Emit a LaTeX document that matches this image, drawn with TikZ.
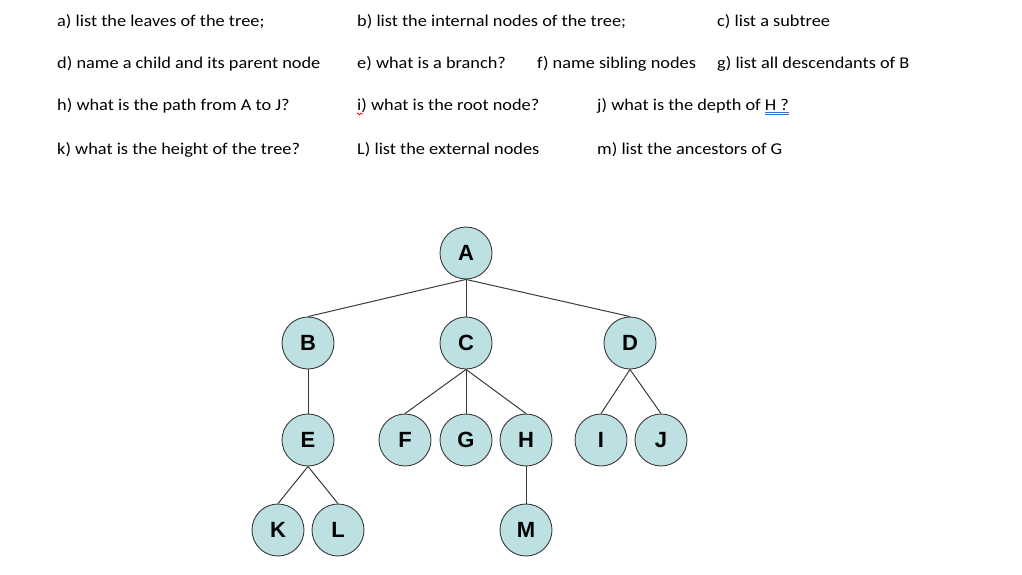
\documentclass[tikz,border=0pt]{standalone}
\usepackage{fontspec}
\setmainfont{Carlito}[FakeStretch=1.11]
\newfontfamily\nodefont{Liberation Sans}
\usetikzlibrary{decorations.pathmorphing}
\definecolor{nodefill}{HTML}{BDE0E3}
\definecolor{nodeline}{HTML}{3A3A3A}
\definecolor{uline}{HTML}{3B6FD8}
\begin{document}
\begin{tikzpicture}[x=1pt,y=-1pt,
  q/.style={anchor=base west,inner sep=0pt,font=\fontsize{16.5}{19}\selectfont},
  tnode/.style={circle,draw=nodeline,line width=0.9pt,fill=nodefill,minimum size=52pt,inner sep=0pt,font=\nodefont\bfseries\fontsize{22}{23}\selectfont},
  tedge/.style={draw=nodeline,line width=1pt}]
\useasboundingbox (0,0) rectangle (1022,575);
% questions
\node[q] (qa) at (57,27) {a) list the leaves of the tree;};
\node[q] (qb) at (357,27) {b) list the internal nodes of the tree;};
\node[q] (qc) at (717,27) {c) list a subtree};
\node[q] (qd) at (57,69) {d) name a child and its parent node};
\node[q] (qe) at (357,69) {e) what is a branch?};
\node[q] (qf) at (537,69) {f) name sibling nodes};
\node[q] (qg) at (717,69) {g) list all descendants of B};
\node[q] (qh) at (57,111) {h) what is the path from A to J?};
\node[q] (qi) at (357,111) {i) what is the root node?};
\node[q] (qj) at (597,111) {j) what is the depth of H ?};
\node[q] (qk) at (57,154) {k) what is the height of the tree?};
\node[q] (ql) at (357,154) {L) list the external nodes};
\node[q] (qm) at (597,154) {m) list the ancestors of G};
% proofing marks
\draw[uline,line width=0.8pt] (765,112) -- (789,112) (765,114.5) -- (789,114.5);
\draw[red,line width=0.7pt,decorate,decoration={snake,amplitude=1pt,segment length=3pt}] (357,114) -- (363,114);
% tree
\node[tnode] (A) at (466,253) {A};
\node[tnode] (B) at (308,343) {B};
\node[tnode] (C) at (466,343) {C};
\node[tnode] (D) at (630,343) {D};
\node[tnode] (E) at (308,440) {E};
\node[tnode] (F) at (405,440) {F};
\node[tnode] (G) at (466,440) {G};
\node[tnode] (H) at (526,440) {H};
\node[tnode] (I) at (601,440) {I};
\node[tnode] (J) at (661,440) {J};
\node[tnode] (K) at (278,530) {K};
\node[tnode] (L) at (338,530) {L};
\node[tnode] (M) at (526,530) {M};
\draw[tedge] (A.south) -- (B.north);
\draw[tedge] (A.south) -- (C.north);
\draw[tedge] (A.south) -- (D.north);
\draw[tedge] (B.south) -- (E.north);
\draw[tedge] (C.south) -- (F.north);
\draw[tedge] (C.south) -- (G.north);
\draw[tedge] (C.south) -- (H.north);
\draw[tedge] (D.south) -- (I.north);
\draw[tedge] (D.south) -- (J.north);
\draw[tedge] (E.south) -- (K.north);
\draw[tedge] (E.south) -- (L.north);
\draw[tedge] (H.south) -- (M.north);
\end{tikzpicture}
\end{document}
